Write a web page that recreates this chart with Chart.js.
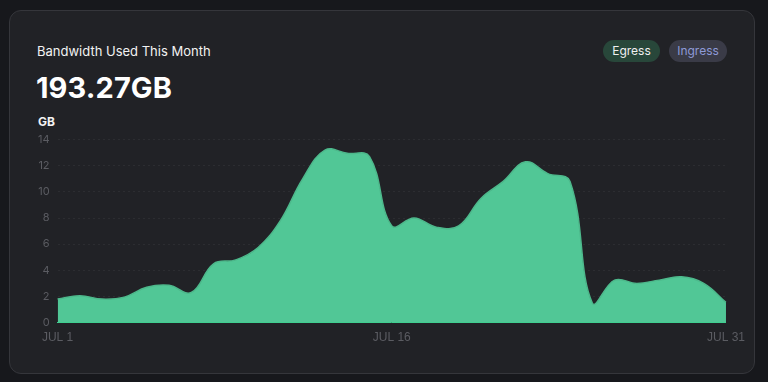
<!DOCTYPE html>
<html>
<head>
<meta charset="utf-8">
<script src="https://cdn.jsdelivr.net/npm/chart.js@4.4.0/dist/chart.umd.min.js"></script>
<style>
  html, body { margin: 0; padding: 0; background: #17181c; width: 768px; height: 382px; overflow: hidden; font-family: Inter, "Noto Sans", sans-serif; }
  .card { position: absolute; left: 9px; top: 10px; width: 744px; height: 362px; background: #212226; border: 1px solid #35363b; border-radius: 12px; }
  .title { position: absolute; left: 37px; top: 43px; color: #f2f2f2; font-size: 13px; }
  .total { position: absolute; left: 36px; top: 70px; color: #ffffff; font-size: 29px; font-weight: 700; letter-spacing: 0.1px; }
  .unit { position: absolute; left: 38px; top: 114px; color: #f2f2f2; font-size: 12px; font-weight: 700; }
  .pill { position: absolute; top: 40px; height: 22px; line-height: 22px; border-radius: 11px; font-size: 12px; text-align: center; }
  .egress { left: 603px; width: 57px; background: #28473a; color: #f0f0f0; }
  .ingress { left: 669px; width: 58px; background: #3a3b47; color: #8e9ad8; }
  .wrap { position: absolute; left: 30px; top: 125px; width: 723px; height: 228px; }
</style>
</head>
<body>
<div class="card"></div>
<div class="title">Bandwidth Used This Month</div>
<div class="total">193.27GB</div>
<div class="unit">GB</div>
<div class="pill egress">Egress</div>
<div class="pill ingress">Ingress</div>
<div class="wrap"><canvas id="c"></canvas></div>
<script>
const days = ["JUL 1","JUL 2","JUL 3","JUL 4","JUL 5","JUL 6","JUL 7","JUL 8","JUL 9","JUL 10","JUL 11","JUL 12","JUL 13","JUL 14","JUL 15","JUL 16","JUL 17","JUL 18","JUL 19","JUL 20","JUL 21","JUL 22","JUL 23","JUL 24","JUL 25","JUL 26","JUL 27","JUL 28","JUL 29","JUL 30","JUL 31"];
const egress = [1.8, 2.05, 1.8, 1.95, 2.7, 2.85, 2.3, 4.5, 4.8, 5.75, 7.8, 11.0, 13.2, 12.95, 12.7, 7.4, 8.0, 7.3, 7.4, 9.5, 10.8, 12.3, 11.4, 10.8, 1.5, 3.25, 3.0, 3.25, 3.5, 3.0, 1.55];
const shownTicks = ["JUL 1", "JUL 16", "JUL 31"];
const yTicks = [0, 2, 4, 6, 8, 10, 12, 14];

new Chart(document.getElementById('c'), {
  type: 'line',
  data: {
    labels: days,
    datasets: [{
      label: 'Egress',
      data: egress,
      fill: 'origin',
      backgroundColor: '#51c796',
      borderColor: '#4db88b',
      borderWidth: 1.5,
      pointRadius: 0,
      tension: 0.4
    }]
  },
  options: {
    responsive: true,
    maintainAspectRatio: false,
    animation: false,
    layout: { padding: { left: 0, right: 10, top: 8, bottom: 0 } },
    plugins: { legend: { display: false }, tooltip: { enabled: false } },
    scales: {
      x: {
        grid: { display: false, drawTicks: false },
        border: { display: true, color: '#3ed08f', width: 1 },
        ticks: {
          color: '#5b5c62',
          font: { family: '"Liberation Sans Narrow", "Arial Narrow", "Liberation Sans", sans-serif', size: 12 },
          maxRotation: 0,
          autoSkip: false,
          padding: 8,
          callback: function(v, i) { return shownTicks.includes(days[i]) ? days[i] : null; }
        }
      },
      y: {
        min: 0, max: 14,
        grid: { color: 'rgba(255,255,255,0.05)', drawTicks: false, lineWidth: 1 },
        border: { display: false, dash: [2, 3] },
        ticks: {
          stepSize: 2,
          color: '#5b5c62',
          font: { family: 'Inter, "Noto Sans", sans-serif', size: 11 },
          padding: 8,
          callback: function(v) { return yTicks.includes(v) ? v : null; }
        }
      }
    }
  }
});
</script>
</body>
</html>
